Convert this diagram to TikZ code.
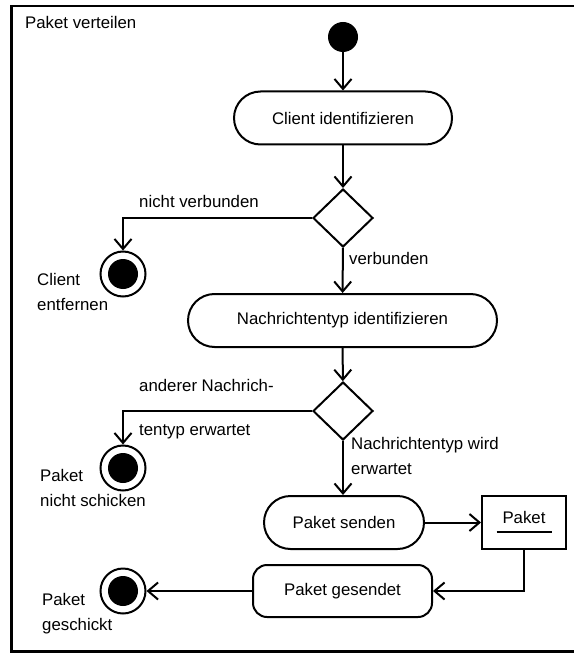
\documentclass[tikz,border=0pt]{standalone}
\usepackage{fontspec}
\setmainfont{Liberation Sans}
\usetikzlibrary{arrows.meta,shapes.geometric}

\begin{document}
\begin{tikzpicture}[
  x=1pt, y=-1pt,
  font=\fontsize{16.8}{25}\selectfont,
  frameline/.style={line width=2.5pt},
  flow/.style={-{Straight Barb[length=10pt,width=17pt]}, line width=2pt},
  startdot/.style={circle, fill=black, minimum size=30pt, inner sep=0pt},
  finaldot/.style={circle, draw, line width=2pt, minimum size=45pt, inner sep=0pt,
    path picture={\fill (path picture bounding box.center) circle (15pt);}},
  action/.style={rectangle, rounded corners=26.5pt, draw, line width=2pt, minimum height=53pt},
  decision/.style={diamond, draw, line width=2pt, minimum width=60pt, minimum height=58pt, inner sep=0pt},
  objbox/.style={rectangle, draw, line width=2pt, minimum width=84pt, minimum height=53pt},
  lbl/.style={anchor=west, inner sep=0pt, align=left}
]
\useasboundingbox (0,0) rectangle (573,655);
\draw[frameline] (576,6) -- (11.5,6) -- (11.5,651.5) -- (576,651.5);

\node[startdot] (start) at (343,37) {};
\node[action, minimum width=218pt] (client) at (343,118) {Client identifizieren};
\node[decision] (d1) at (343,218) {};
\node[finaldot] (end1) at (123,274) {};
\node[action, minimum width=309pt] (nachr) at (342.5,320.5) {Nachrichtentyp identifizieren};
\node[decision] (d2) at (343,411) {};
\node[finaldot] (end2) at (123,468) {};
\node[action, minimum width=160pt] (senden) at (344,522.5) {Paket senden};
\node[objbox, text height=12pt, text depth=10pt,
  path picture={\draw[line width=1.2pt] ([xshift=-27.5pt,yshift=-9.5pt]path picture bounding box.center) -- ++(55pt,0);}]
  (paket) at (524,522.5) {Paket};
\node[rectangle, rounded corners=14pt, draw, line width=2pt, minimum width=179pt, minimum height=52pt] (gesendet) at (342.5,591) {Paket gesendet};
\node[finaldot] (end3) at (123,591) {};

\node[lbl] (title) at (25,22) {Paket verteilen};
\node[lbl] (l1) at (139,201) {nicht verbunden};
\node[lbl] (l2) at (349,258) {verbunden};
\node[lbl] (l3) at (37,292) {Client\\entfernen};
\node[lbl] (l4) at (139,385) {anderer Nachrich-};
\node[lbl] (l5) at (139,432) {tentyp erwartet};
\node[lbl] (l6) at (40,488) {Paket\\nicht schicken};
\node[lbl] (l7) at (351,455.5) {Nachrichtentyp wird\\erwartet};
\node[lbl] (l8) at (42,614) {Paket\\geschickt};

\draw[flow] (start) -- (client);
\draw[flow] (client) -- (d1);
\draw[flow] (d1) -| (end1);
\draw[flow] (d1) -- (nachr);
\draw[flow] (nachr) -- (d2);
\draw[flow] (d2) -| (end2);
\draw[flow] (d2.south) -- (d2.south |- senden.north);
\draw[flow] (senden) -- (paket);
\draw[flow] (paket) |- (gesendet);
\draw[flow] (gesendet) -- (end3);
\end{tikzpicture}
\end{document}
